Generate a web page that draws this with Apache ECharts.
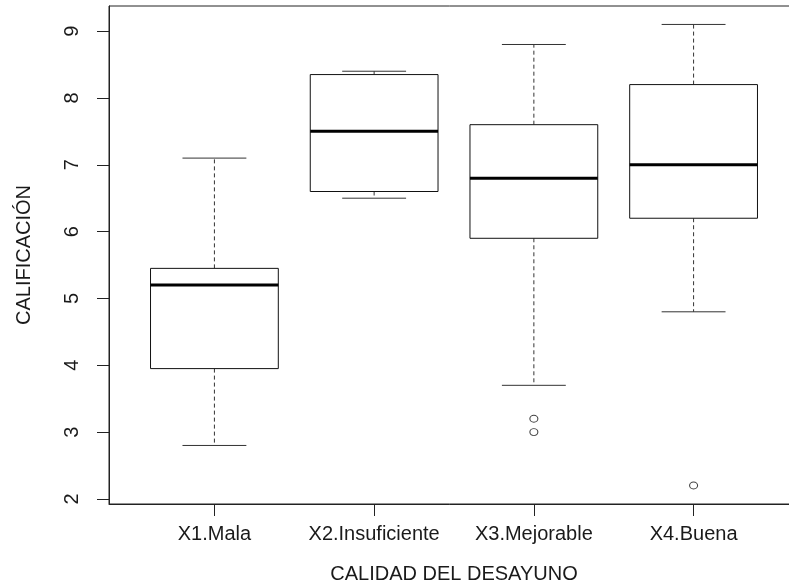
<!DOCTYPE html>
<html>
<head>
<meta charset="utf-8">
<script src="https://cdn.jsdelivr.net/npm/echarts@6/dist/echarts.min.js"></script>
<style>html,body{margin:0;padding:0;background:#fff}#c{width:789px;height:588px}</style>
</head>
<body>
<div id="c"></div>
<script>
const categories = ['X1.Mala', 'X2.Insuficiente', 'X3.Mejorable', 'X4.Buena'];
const lowWhisker = [2.8, 6.5, 3.7, 4.8];
const q1 = [3.95, 6.6, 5.9, 6.2];
const median = [5.2, 7.5, 6.8, 7.0];
const q3 = [5.45, 8.35, 7.6, 8.2];
const highWhisker = [7.1, 8.4, 8.8, 9.1];
const outlierGroup = [3, 3, 4];
const outlierValues = [3.2, 3.0, 2.2];
const yTicks = [2, 3, 4, 5, 6, 7, 8, 9];

const boxData = categories.map((c, i) => [i + 1, lowWhisker[i], q1[i], median[i], q3[i], highWhisker[i]]);
const outlierData = outlierGroup.map((g, i) => [g, outlierValues[i]]);
const xPositions = categories.map((c, i) => i + 1);

const FONT = 'Liberation Sans, Arial, sans-serif';
const TXT = '#1a1a1a';
const LINE = '#222';

const chart = echarts.init(document.getElementById('c'), null, {renderer: 'canvas'});
chart.setOption({
  animation: false,
  backgroundColor: '#fff',
  grid: {left: 109, top: 6, width: 690, height: 498, outerBoundsMode: 'none', containLabel: false,
    show: true, borderColor: LINE, borderWidth: 1, backgroundColor: 'transparent'},
  xAxis: {
    type: 'value', min: 0.34, max: 4.66,
    splitLine: {show: false},
    axisLine: {show: true, onZero: false, lineStyle: {color: LINE}},
    axisTick: {show: true, length: 12, customValues: xPositions, lineStyle: {color: LINE}},
    axisLabel: {customValues: xPositions, margin: 20, fontFamily: FONT, fontSize: 20, color: TXT,
      formatter: v => categories[Math.round(v) - 1] || ''},
    name: 'CALIDAD DEL DESAYUNO', nameLocation: 'middle', nameGap: 60,
    nameTextStyle: {fontFamily: FONT, fontSize: 20, color: TXT}
  },
  yAxis: {
    type: 'value', min: 1.924, max: 9.376,
    splitLine: {show: false},
    axisLine: {show: true, onZero: false, lineStyle: {color: LINE}},
    axisTick: {show: true, length: 12, customValues: yTicks, lineStyle: {color: LINE}},
    axisLabel: {customValues: yTicks, rotate: 90, margin: 27, fontFamily: FONT, fontSize: 20, color: TXT},
    name: 'CALIFICACIÓN', nameLocation: 'middle', nameGap: 75,
    nameTextStyle: {fontFamily: FONT, fontSize: 20, color: TXT}
  },
  series: [
    {
      type: 'custom',
      data: boxData,
      encode: {x: 0, y: [1, 2, 3, 4, 5]},
      renderItem: function (params, api) {
        const x = api.value(0);
        const lo = api.coord([x, api.value(1)]);
        const b1 = api.coord([x, api.value(2)]);
        const md = api.coord([x, api.value(3)]);
        const b3 = api.coord([x, api.value(4)]);
        const hi = api.coord([x, api.value(5)]);
        const bw = api.size([0.8, 0])[0];
        const sw = api.size([0.4, 0])[0];
        const cx = lo[0];
        const dash = {stroke: '#333', lineWidth: 1, lineDash: [4, 3]};
        const solid = {stroke: '#333', lineWidth: 1};
        return {
          type: 'group',
          children: [
            {type: 'line', shape: {x1: cx, y1: b3[1], x2: cx, y2: hi[1]}, style: dash},
            {type: 'line', shape: {x1: cx, y1: b1[1], x2: cx, y2: lo[1]}, style: dash},
            {type: 'line', shape: {x1: cx - sw / 2, y1: hi[1], x2: cx + sw / 2, y2: hi[1]}, style: solid},
            {type: 'line', shape: {x1: cx - sw / 2, y1: lo[1], x2: cx + sw / 2, y2: lo[1]}, style: solid},
            {type: 'rect', shape: {x: cx - bw / 2, y: b3[1], width: bw, height: b1[1] - b3[1]},
              style: {fill: '#fff', stroke: '#111', lineWidth: 1}},
            {type: 'line', shape: {x1: cx - bw / 2, y1: md[1], x2: cx + bw / 2, y2: md[1]},
              style: {stroke: '#000', lineWidth: 3}}
          ]
        };
      }
    },
    {
      type: 'scatter',
      data: outlierData,
      symbol: 'circle',
      symbolSize: [8, 7],
      itemStyle: {color: '#fff', borderColor: '#111', borderWidth: 1},
      z: 5
    }
  ]
});
</script>
</body>
</html>
